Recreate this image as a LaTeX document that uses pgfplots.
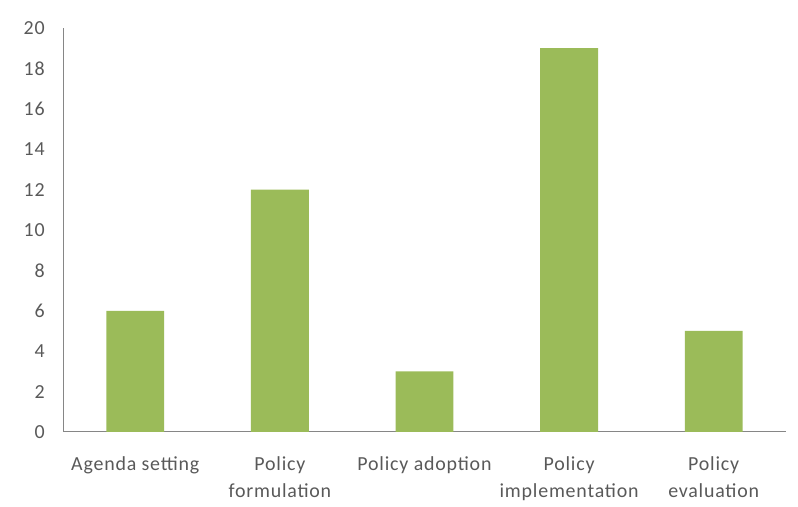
\documentclass[border=0pt]{standalone}
\usepackage{fontspec}
\setmainfont{Carlito}[LetterSpace=4]
\usepackage{pgfplots}
\pgfplotsset{compat=1.18}
\definecolor{bargreen}{HTML}{9BBB59}
\definecolor{txtgray}{HTML}{595959}
\definecolor{axgray}{HTML}{868686}
\begin{document}
\begin{tikzpicture}[x=1bp,y=1bp]
\useasboundingbox (0,0) rectangle (798,507);
\begin{axis}[
  at={(63bp,75bp)}, anchor=south west,
  scale only axis,
  width=723bp, height=404bp,
  xmin=-0.5, xmax=4.5,
  ymin=0, ymax=20,
  axis x line=bottom, axis y line=left,
  axis line style={draw=axgray, line width=1bp, -},
  tick style={draw=none},
  xtick={0,1,2,3,4},
  xticklabels={Agenda setting, Policy\\formulation, Policy adoption, Policy\\implementation, Policy\\evaluation},
  ytick={0,2,...,20},
  /pgf/number format/assume math mode=true,
  ticklabel style={font=\fontsize{20}{27}\selectfont, text=txtgray, inner sep=0pt},
  xticklabel style={align=center, anchor=north, yshift=-20bp},
  yticklabel style={anchor=east, xshift=-16bp},
  ybar, bar width=0.4,
]
\addplot[fill=bargreen, draw=none] coordinates {(0,6) (1,12) (2,3) (3,19) (4,5)};
\end{axis}
\end{tikzpicture}
\end{document}
